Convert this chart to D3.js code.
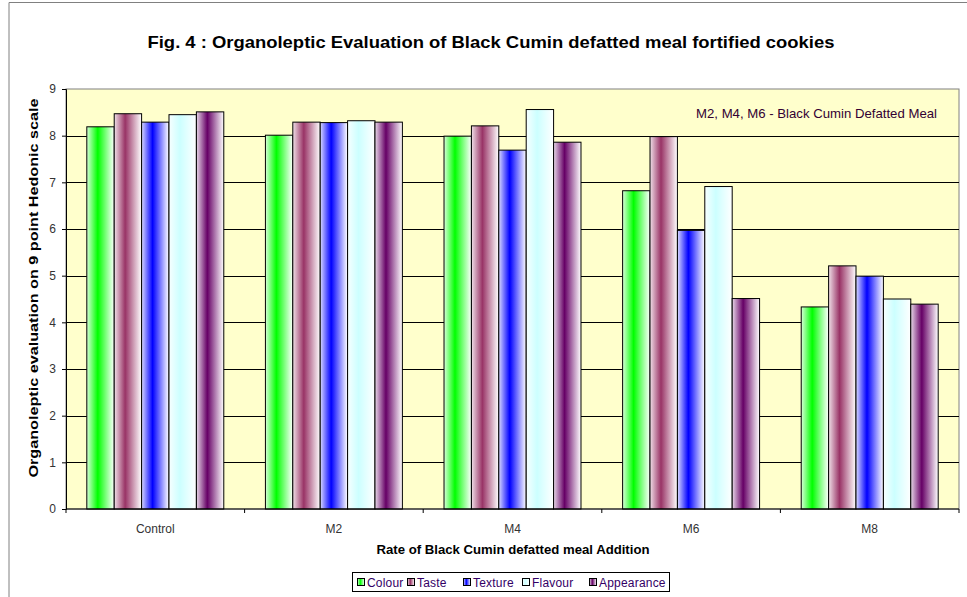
<!DOCTYPE html>
<html>
<head>
<meta charset="utf-8">
<script src="https://cdn.jsdelivr.net/npm/d3@7"></script>
<style>
  body { margin: 0; background: #fff; }
  svg { display: block; font-family: "Liberation Sans", Arial, sans-serif; }
</style>
</head>
<body>
<svg id="chart" width="967" height="597"></svg>
<script>
// Chart data
const groups = ['Control', 'M2', 'M4', 'M6', 'M8'];
const seriesNames = ['Colour', 'Taste', 'Texture', 'Flavour', 'Appearance'];
const seriesColors = ['#00ff00', '#993366', '#0000ff', '#ccffff', '#660066'];
const colour     = [8.19, 8.01, 7.99, 6.82, 4.33];
const taste      = [8.47, 8.29, 8.21, 7.98, 5.21];
const texture    = [8.29, 8.28, 7.69, 5.97, 4.99];
const flavour    = [8.45, 8.32, 8.56, 6.91, 4.50];
const appearance = [8.51, 8.29, 7.86, 4.51, 4.39];
const yTicks = [0, 1, 2, 3, 4, 5, 6, 7, 8, 9];

const seriesValues = [colour, taste, texture, flavour, appearance];

const svg = d3.select('#chart');
const plot = { left: 66, right: 959, top: 89, bottom: 509 };

// Gradients (colour in centre-left, fading to white)
const defs = svg.append('defs');
seriesColors.forEach((c, i) => {
    const grad = defs.append('linearGradient').attr('id', 'grad' + i)
        .attr('x1', '0%').attr('x2', '100%').attr('y1', '0%').attr('y2', '0%');
    grad.append('stop').attr('offset', '0%').attr('stop-color', d3.interpolateRgb('#ffffff', c)(0.15));
    grad.append('stop').attr('offset', '40%').attr('stop-color', c);
    grad.append('stop').attr('offset', '100%').attr('stop-color', '#ffffff');
});

// Outer frame
svg.append('path').attr('d', 'M9,597 V2.5 H967')
    .attr('fill', 'none').attr('stroke', '#808080').attr('stroke-width', 1);

// Title
svg.append('text').attr('x', 491).attr('y', 48).attr('text-anchor', 'middle')
    .attr('font-size', 17).attr('font-weight', 'bold').attr('fill', '#000')
    .attr('textLength', 687).attr('lengthAdjust', 'spacingAndGlyphs')
    .text('Fig. 4 : Organoleptic Evaluation of Black Cumin defatted meal fortified cookies');

// Scales
const x0 = d3.scaleBand().domain(groups).range([plot.left, plot.right]).paddingInner(0).paddingOuter(0);
const x1 = d3.scaleBand().domain(seriesNames).range([0, x0.bandwidth()]).paddingOuter(0.76).paddingInner(0);
const y = d3.scaleLinear().domain([0, 9]).range([plot.bottom, plot.top]);

// Plot area background
svg.append('rect').attr('x', plot.left).attr('y', plot.top)
    .attr('width', plot.right - plot.left).attr('height', plot.bottom - plot.top)
    .attr('fill', '#ffffcc').attr('stroke', '#808080');

// Gridlines
svg.append('g').selectAll('line').data(yTicks.filter(t => t > 0 && t < 9)).enter().append('line')
    .attr('x1', plot.left).attr('x2', plot.right)
    .attr('y1', d => Math.round(y(d)) + 0.5).attr('y2', d => Math.round(y(d)) + 0.5)
    .attr('stroke', '#000').attr('stroke-width', 1);

// Bars
const grp = svg.append('g').selectAll('g').data(groups).enter().append('g')
    .attr('transform', d => `translate(${x0(d)},0)`);
grp.selectAll('rect').data((g, gi) => seriesNames.map((s, si) => ({ s, si, v: seriesValues[si][gi] })))
    .enter().append('rect')
    .attr('x', d => x1(d.s))
    .attr('y', d => y(d.v))
    .attr('width', x1.bandwidth())
    .attr('height', d => y(0) - y(d.v))
    .attr('fill', d => `url(#grad${d.si})`)
    .attr('stroke', '#000').attr('stroke-width', 1);

// Y axis
const yAxis = svg.append('g').attr('transform', `translate(${plot.left},0)`)
    .call(d3.axisLeft(y).tickValues(yTicks).tickSize(4).tickPadding(6).tickFormat(d3.format('d')));
yAxis.select('.domain').attr('stroke', '#000');
yAxis.selectAll('text').attr('font-size', 12).attr('fill', '#333').attr('font-family', '"Liberation Sans", Arial, sans-serif');

// X axis: ticks at category boundaries
const xAxis = svg.append('g').attr('transform', `translate(0,${plot.bottom})`);
xAxis.append('line').attr('x1', plot.left).attr('x2', plot.right).attr('stroke', '#000');
const bounds = groups.map(g => x0(g)).concat([plot.right]);
xAxis.selectAll('.tk').data(bounds).enter().append('line')
    .attr('x1', d => d).attr('x2', d => d).attr('y1', 0).attr('y2', 4).attr('stroke', '#000');
xAxis.selectAll('.lbl').data(groups).enter().append('text')
    .attr('x', d => x0(d) + x0.bandwidth() / 2).attr('y', 24)
    .attr('text-anchor', 'middle').attr('font-size', 12).attr('fill', '#333').text(d => d);

// Axis titles
svg.append('text').attr('x', 513).attr('y', 554).attr('text-anchor', 'middle')
    .attr('font-size', 13).attr('font-weight', 'bold')
    .attr('textLength', 273).attr('lengthAdjust', 'spacingAndGlyphs')
    .text('Rate of Black Cumin defatted meal Addition');
svg.append('text').attr('transform', 'translate(38,288) rotate(-90)').attr('text-anchor', 'middle')
    .attr('font-size', 12.5).attr('font-weight', 'bold')
    .attr('textLength', 379).attr('lengthAdjust', 'spacingAndGlyphs')
    .text('Organoleptic evaluation on 9 point Hedonic scale');

// Annotation
svg.append('text').attr('x', 937).attr('y', 118).attr('text-anchor', 'end')
    .attr('font-size', 13).attr('fill', '#330033')
    .attr('textLength', 241).attr('lengthAdjust', 'spacingAndGlyphs')
    .text('M2, M4, M6 - Black Cumin Defatted Meal');

// Legend
const legend = svg.append('g').attr('transform', 'translate(352,572)');
legend.append('rect').attr('x', 0.5).attr('y', 0.5).attr('width', 317).attr('height', 19)
    .attr('fill', '#fff').attr('stroke', '#000');
const legendX = [5, 55, 111, 170, 237];
const items = legend.selectAll('.it').data(seriesNames).enter().append('g')
    .attr('transform', (d, i) => `translate(${legendX[i]},0)`);
items.append('rect').attr('x', 0.5).attr('y', 6.5).attr('width', 7).attr('height', 7)
    .attr('fill', (d, i) => `url(#grad${i})`).attr('stroke', '#000');
items.append('text').attr('x', 10).attr('y', 14.5).attr('font-size', 12).attr('fill', '#330066')
    .attr('letter-spacing', 0.2).text(d => d);
</script>
</body>
</html>
